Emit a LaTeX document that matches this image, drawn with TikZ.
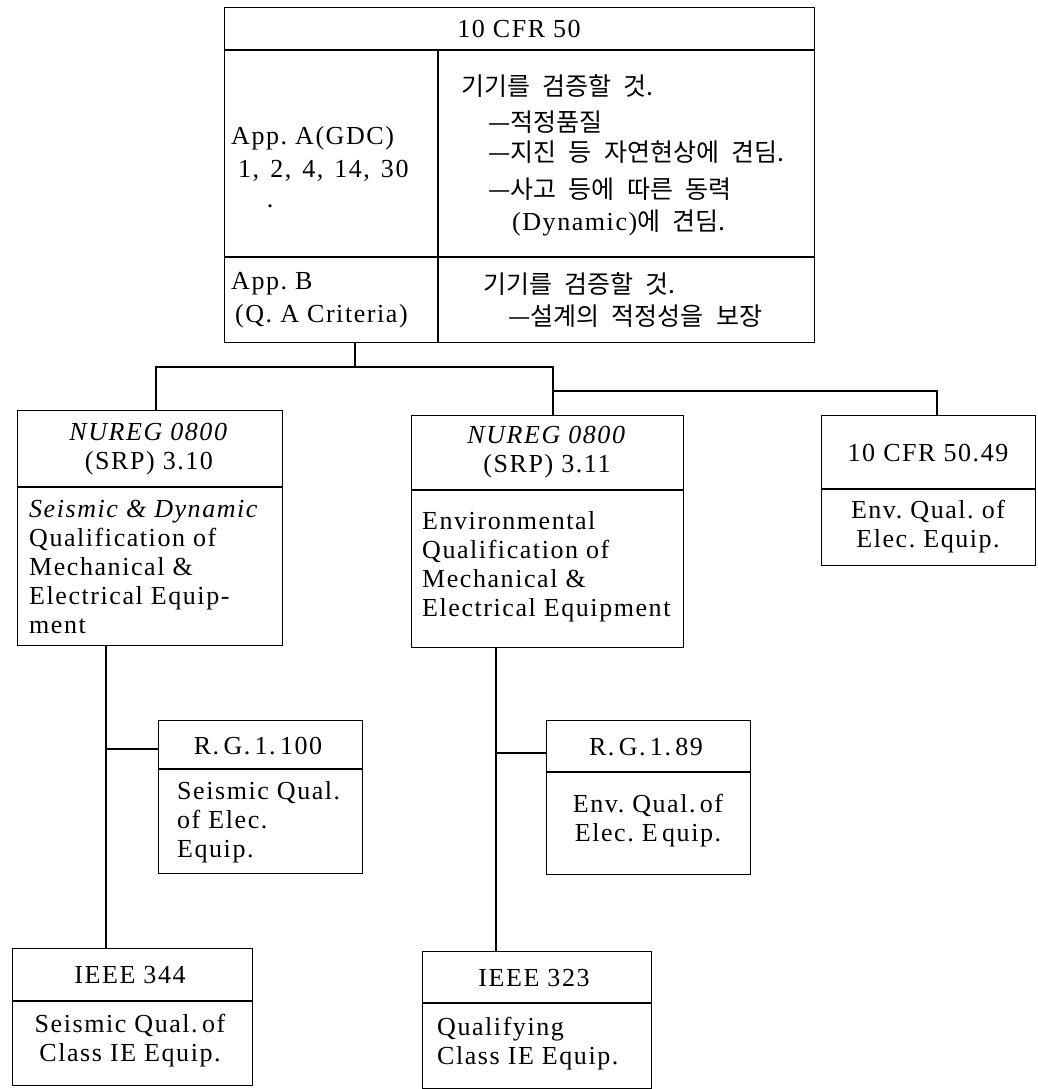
\documentclass[tikz,border=0pt]{standalone}
\usepackage{fontspec}
\setmainfont{Liberation Serif}[LetterSpace=6]
\newfontfamily\kr{Noto Sans CJK KR}[WordSpace=2.2]
\begin{document}
\begin{tikzpicture}[x=1pt,y=-1pt,
  box/.style={draw,line width=1.1pt,anchor=north west,inner sep=0pt},
  lat/.style={inner sep=0pt,font=\fontsize{26}{29}\selectfont},
  kor/.style={inner sep=0pt,anchor=west,font=\kr\fontsize{25}{29}\selectfont},
  ln/.style={line width=1.1pt}]
\useasboundingbox (0,0) rectangle (1037,1089);

% ---- top box: 10 CFR 50
\node[box,minimum width=590,minimum height=335] (top) at (224,7) {};
\draw[ln] (top.west |- 0,50) -- (top.east |- 0,50);
\draw[ln] (top.west |- 0,257) -- (top.east |- 0,257);
\draw[ln] (438,50) -- (438 ,342);
\node[lat] (t0) at (519,29) {10 CFR 50};
\node[lat,anchor=west] (a1) at (231,138) {App.\ A(GDC)};
\node[lat,anchor=west] (a2) at (238,171) {1,\hspace{11pt}2,\hspace{11pt}4,\hspace{11pt}14,\hspace{11pt}30};
\node[lat] (a3) at (270,206) {.};
\node[lat,anchor=west] (b1) at (231,284) {App.\ B};
\node[lat,anchor=west] (b2) at (235,316) {(Q.\ A Criteria)};
\node[kor] (k1) at (461,86) {기기를 검증할 것.};
\node[kor] (k2) at (488,122) {—적정품질};
\node[kor] (k3) at (488,152) {—지진 등 자연현상에 견딤.};
\node[kor] (k4) at (488,189) {—사고 등에 따른 동력};
\node[kor] (k5) at (512,223) {{\rmfamily\fontsize{26}{29}\selectfont(Dynamic)}에 견딤.};
\node[kor] (k6) at (483,284) {기기를 검증할 것.};
\node[kor] (k7) at (508,316) {—설계의 적정성을 보장};

% ---- NUREG 3.10
\node[box,minimum width=265,minimum height=235] (nl) at (17,410) {};
\draw[ln] (nl.west |- 0,487) -- (nl.east |- 0,487);
\node[lat,align=center] (nlh) at (149,449) {\textit{NUREG 0800}\\(SRP) 3.10};
\node[lat,align=left,anchor=west] (nlb) at (29,567) {\textit{Seismic \& Dynamic}\\Qualification of\\Mechanical \&\\Electrical Equip-\\ment};

% ---- NUREG 3.11
\node[box,minimum width=272,minimum height=232] (nm) at (411,415) {};
\draw[ln] (nm.west |- 0,490) -- (nm.east |- 0,490);
\node[lat,align=center] (nmh) at (547,452) {\textit{NUREG 0800}\\(SRP) 3.11};
\node[lat,align=left,anchor=west] (nmb) at (422,567) {Environmental\\Qualification of\\Mechanical \&\\Electrical Equipment};

% ---- 10 CFR 50.49
\node[box,minimum width=214,minimum height=150] (nr) at (821,415) {};
\draw[ln] (nr.west |- 0,489) -- (nr.east |- 0,489);
\node[lat] (nrh) at (928,453) {10 CFR 50.49};
\node[lat,align=center] (nrb) at (928,527) {Env.\ Qual.\ of\\Elec.\ Equip.};

% ---- R.G. 1.100
\node[box,minimum width=204,minimum height=153] (rg100) at (158,720) {};
\draw[ln] (rg100.west |- 0,769) -- (rg100.east |- 0,769);
\node[lat] (rg100h) at (258,746) {R.\,G.\,1.\,100};
\node[lat,align=left,anchor=west] (rg100b) at (177,822) {Seismic Qual.\\of Elec.\\Equip.};

% ---- IEEE 344
\node[box,minimum width=240,minimum height=137] (ie344) at (12,948) {};
\draw[ln] (ie344.west |- 0,1001) -- (ie344.east |- 0,1001);
\node[lat] (ie344h) at (130,975) {IEEE 344};
\node[lat,align=center] (ie344b) at (130,1041) {Seismic Qual.\,of\\Class IE Equip.};

% ---- R.G. 1.89
\node[box,minimum width=204,minimum height=154] (rg89) at (546,720) {};
\draw[ln] (rg89.west |- 0,772) -- (rg89.east |- 0,772);
\node[lat] (rg89h) at (646,747) {R.\,G.\,1.\,89};
\node[lat,align=center] (rg89b) at (648,821) {Env.\ Qual.\,of\\Elec.\ E\,quip.};

% ---- IEEE 323
\node[box,minimum width=229,minimum height=137] (ie323) at (422,951) {};
\draw[ln] (ie323.west |- 0,1003) -- (ie323.east |- 0,1003);
\node[lat] (ie323h) at (534,978) {IEEE 323};
\node[lat,align=left,anchor=west] (ie323b) at (437,1044) {Qualifying\\Class IE Equip.};

% ---- connectors
\coordinate (s0) at (355,367);
\coordinate (s1) at (156,367);
\coordinate (s2) at (553,367);
\coordinate (s3) at (553,391);
\coordinate (s4) at (937,391);
\draw[ln] (top.south -| s0) -- (s0);
\draw[ln] (s1 |- nl.north) -- (s1) -- (s2) -- (s2 |- nm.north);
\draw[ln] (s3) -- (s4) -- (s4 |- nr.north);
\coordinate (l0) at (106,749);
\draw[ln] (nl.south -| l0) -- (ie344.north -| l0);
\draw[ln] (l0) -- (l0 -| rg100.west);
\coordinate (m0) at (496,753);
\draw[ln] (nm.south -| m0) -- (ie323.north -| m0);
\draw[ln] (m0) -- (m0 -| rg89.west);
\end{tikzpicture}
\end{document}
